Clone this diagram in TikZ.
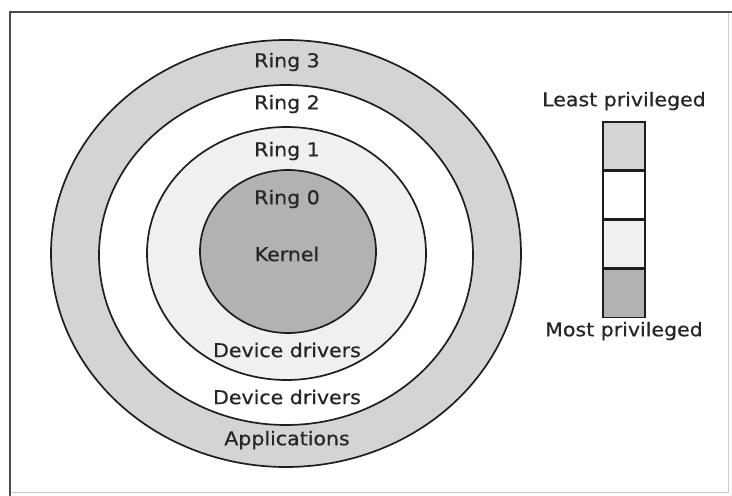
\documentclass[tikz,border=0pt]{standalone}
\usepackage{fontspec}
\setmainfont{DejaVu Sans}[FakeStretch=1.08, FakeBold=0.6]
\definecolor{ringthree}{RGB}{212,212,212}
\definecolor{ringtwo}{RGB}{255,255,255}
\definecolor{ringone}{RGB}{240,240,240}
\definecolor{ringzero}{RGB}{178,178,178}
\definecolor{edge}{RGB}{30,30,30}
\tikzset{
  ringline/.style={draw=edge, line width=1.7pt},
  lbl/.style={font=\fontsize{19}{21}\selectfont, text=black!85, inner sep=0pt, anchor=center},
  cell/.style={draw=edge, line width=1.5pt, minimum width=42pt, minimum height=47.75pt, inner sep=0pt, anchor=north}
}
\begin{document}
\begin{tikzpicture}[x=1pt, y=-1pt]
\useasboundingbox (0,0) rectangle (732,496);
\fill[white] (0,0) rectangle (732,496);
% frame
\draw[black!20, line width=0.8pt] (728,12) -- (728,492) -- (10,492);
\draw[black!70, line width=1.8pt] (10,496) -- (10,12) -- (732,12);
% rings
\filldraw[ringline, fill=ringthree] (286,253.5) ellipse [x radius=235, y radius=213.5];
\filldraw[ringline, fill=ringtwo] (286,255) ellipse [x radius=187, y radius=170];
\filldraw[ringline, fill=ringone] (286.5,253.5) ellipse [x radius=139.5, y radius=126.5];
\filldraw[ringline, fill=ringzero] (288,251.5) ellipse [x radius=88, y radius=81.5];
% labels
\node[lbl] (r3) at (287,62) {Ring 3};
\node[lbl] (r2) at (287,104) {Ring 2};
\node[lbl] (r1) at (287,151) {Ring 1};
\node[lbl] (r0) at (287,199) {Ring 0};
\node[lbl] (kern) at (287,254) {Kernel};
\node[lbl] (dd1) at (287,350) {Device drivers};
\node[lbl] (dd2) at (287,397) {Device drivers};
\node[lbl] (apps) at (287,440) {Applications};
% legend bar
\node[cell, fill=ringthree] (c3) at (624,121) {};
\node[cell, fill=ringtwo] (c2) at (c3.south) {};
\node[cell, fill=ringone] (c1) at (c2.south) {};
\node[cell, fill=ringzero] (c0) at (c1.south) {};
\node[lbl] (least) at (624,101) {Least privileged};
\node[lbl] (most) at (624,331) {Most privileged};
\end{tikzpicture}
\end{document}
